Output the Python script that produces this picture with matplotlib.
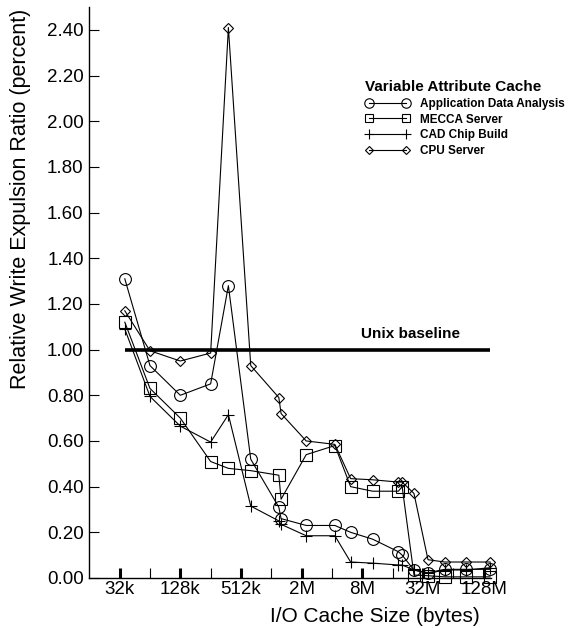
import matplotlib
matplotlib.use("Agg")
import matplotlib.pyplot as plt
from matplotlib.ticker import FixedLocator, NullFormatter

plt.rcParams['font.family'] = ['Liberation Sans', 'DejaVu Sans']

# cache sizes in KB
sizes_kb = [36, 64, 128, 256, 384, 640, 1216, 1280, 2272, 4376, 6270, 10366,
            18665, 20350, 26670, 36740, 53830, 86980, 151800]

app_data = [1.31, 0.93, 0.80, 0.85, 1.28, 0.52, 0.31, 0.26, 0.23, 0.23, 0.20, 0.17,
            0.115, 0.10, 0.035, 0.023, 0.038, 0.038, 0.038]
mecca = [1.12, 0.83, 0.70, 0.51, 0.48, 0.47, 0.45, 0.345, 0.54, 0.58, 0.40, 0.38,
         0.38, 0.40, 0.013, 0.01, 0.005, 0.005, 0.005]
cad_chip = [1.09, 0.795, 0.665, 0.595, 0.715, 0.315, 0.25, 0.235, 0.185, 0.185, 0.07, 0.065,
            0.057, 0.057, 0.035, 0.02, 0.035, 0.035, 0.045]
cpu_server = [1.17, 0.995, 0.95, 0.985, 2.41, 0.93, 0.79, 0.72, 0.60, 0.585, 0.435, 0.43,
              0.42, 0.42, 0.37, 0.08, 0.07, 0.07, 0.07]

unix_baseline = 1.0

major_ticks_kb = [32, 128, 512, 2048, 8192, 32768, 131072]
major_labels = ["32k", "128k", "512k", "2M", "8M", "32M", "128M"]
minor_ticks_kb = [64, 256, 1024, 4096, 16384, 65536]

y_ticks = [0.0, 0.2, 0.4, 0.6, 0.8, 1.0, 1.2, 1.4, 1.6, 1.8, 2.0, 2.2, 2.4]

W, H = 568, 628
fig = plt.figure(figsize=(W / 100, H / 100), dpi=100)
ax = fig.add_axes([89.3 / W, 1 - 578 / H, (491 - 89.3) / W, (578 - 7) / H])

series = [
    ("Application Data Analysis", app_data, "o", 8.5),
    ("MECCA Server", mecca, "s", 8),
    ("CAD Chip Build", cad_chip, "+", 9),
    ("CPU Server", cpu_server, "D", 5.5),
]

for name, vals, mk, ms in series:
    ax.plot(sizes_kb, vals, color="black", lw=0.8, marker=mk, ms=ms,
            mfc="none", mec="black", mew=0.8, label=name, clip_on=False)

ax.plot([sizes_kb[0], sizes_kb[-1]], [unix_baseline, unix_baseline],
        color="black", lw=2.6, solid_capstyle="butt")
ax.text(24700, 1.07, "Unix baseline", fontsize=11, fontweight="bold",
        ha="center", va="center")

ax.set_xscale("log", base=2)
ax.set_xlim(16, 155000)
ax.set_ylim(0, 2.5)

ax.xaxis.set_major_locator(FixedLocator(major_ticks_kb))
ax.set_xticklabels(major_labels)
ax.xaxis.set_minor_locator(FixedLocator(minor_ticks_kb))
ax.xaxis.set_minor_formatter(NullFormatter())
ax.set_yticks(y_ticks)
ax.set_yticklabels(["%.2f" % v for v in y_ticks])

ax.tick_params(axis="x", which="major", direction="in", length=7.5, width=2.2,
               labelsize=13.5, pad=2)
ax.tick_params(axis="x", which="minor", direction="in", length=7.5, width=0.8)
ax.tick_params(axis="y", direction="in", length=7.5, width=0.8,
               labelsize=13.5, pad=4)

ax.spines["top"].set_visible(False)
ax.spines["right"].set_visible(False)
ax.spines["left"].set_linewidth(1.0)
ax.spines["bottom"].set_linewidth(1.0)

fig.text(21 / W, 1 - 199 / H, "Relative Write Expulsion Ratio (percent)",
         rotation=90, ha="center", va="center", fontsize=15.5)
fig.text(270 / W, 1 - 617 / H, "I/O Cache Size (bytes)",
         ha="left", va="center", fontsize=15)

leg = ax.legend(title="Variable Attribute Cache", loc="upper left",
                bbox_to_anchor=(365 / W, 1 - 80 / H), bbox_transform=fig.transFigure,
                frameon=False, numpoints=2, markerscale=0.8,
                prop={"weight": "bold", "size": 8.5},
                title_fontproperties={"weight": "bold", "size": 11},
                alignment="left", handlelength=3.8, handletextpad=0.9,
                labelspacing=0.32, borderpad=0, borderaxespad=0)

fig.savefig("out.png", dpi=100)
